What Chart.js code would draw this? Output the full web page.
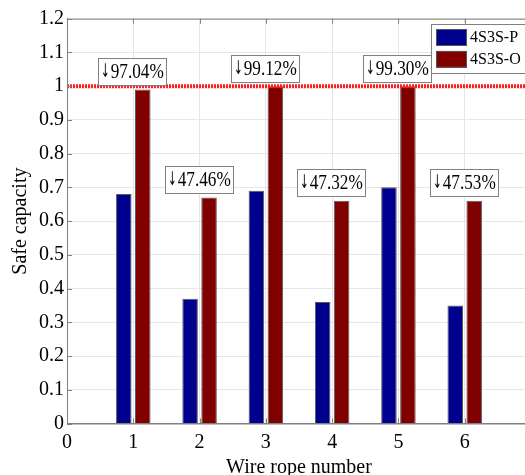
<!DOCTYPE html>
<html>
<head>
<meta charset="utf-8">
<script src="https://cdn.jsdelivr.net/npm/chart.js@4.4.1/dist/chart.umd.min.js"></script>
<style>
  html, body { margin: 0; padding: 0; background: #fff; overflow: hidden; }
  #wrap { width: 540px; height: 485px; }
</style>
</head>
<body>
<div id="wrap"><canvas id="myChart" width="540" height="485"></canvas></div>
<script>
// values
var ropeNumbers = [1, 2, 3, 4, 5, 6];
var seriesP = [0.68, 0.37, 0.69, 0.36, 0.70, 0.35];
var seriesO = [0.99, 0.67, 1.00, 0.66, 1.00, 0.66];
var dropPercent = [97.04, 47.46, 99.12, 47.32, 99.30, 47.53];
var seriesNames = ['4S3S-P', '4S3S-O'];
var xTickLabels = ['0', '1', '2', '3', '4', '5', '6'];
var yTickLabels = ['0', '0.1', '0.2', '0.3', '0.4', '0.5', '0.6', '0.7', '0.8', '0.9', '1', '1.1', '1.2'];
var limitValue = 1;

var serif = "'Liberation Serif', 'Times New Roman', serif";
Chart.defaults.font.family = serif;
Chart.defaults.color = '#000';

function points(vals) {
  return vals.map(function (v, i) { return { x: ropeNumbers[i], y: v }; });
}

// matlab style box + inward ticks
var framePlugin = {
  id: 'frame',
  afterDatasetsDraw: function (chart) {
    var a = chart.chartArea, ctx = chart.ctx;
    var xs = chart.scales.x, ys = chart.scales.y;
    ctx.save();
    ctx.strokeStyle = '#808080';
    ctx.lineWidth = 1;
    ctx.strokeRect(a.left + 0.5, a.top + 0.5, a.right - a.left, a.bottom - a.top);
    ctx.beginPath();
    xs.ticks.forEach(function (t) {
      var px = Math.round(xs.getPixelForValue(t.value)) + 0.5;
      ctx.moveTo(px, a.bottom); ctx.lineTo(px, a.bottom - 5);
      ctx.moveTo(px, a.top); ctx.lineTo(px, a.top + 5);
    });
    ys.ticks.forEach(function (t) {
      var py = Math.round(ys.getPixelForValue(t.value)) + 0.5;
      ctx.moveTo(a.left, py); ctx.lineTo(a.left + 5, py);
    });
    ctx.stroke();
    ctx.restore();
  }
};

// boxed drop labels above each group (text is a bit condensed in the original)
var squeeze = 0.86;
var arrowFont = '19px DejaVu Sans', arrowSqueeze = 0.55;
var dropLabels = {
  id: 'dropLabels',
  afterDatasetsDraw: function (chart) {
    var ctx = chart.ctx;
    var xs = chart.scales.x, ys = chart.scales.y;
    ctx.save();
    ctx.textBaseline = 'middle';
    ctx.textAlign = 'left';
    dropPercent.forEach(function (d, i) {
      var num = d.toFixed(2) + '%';
      ctx.font = arrowFont;
      var aw = ctx.measureText('\u2193').width * arrowSqueeze;
      ctx.font = '20px ' + serif;
      var nw = ctx.measureText(num).width * squeeze;
      var cx = xs.getPixelForValue(ropeNumbers[i]) - 1;
      var cy = ys.getPixelForValue(seriesO[i]) - 18;
      var w = Math.round(aw + 1 + nw + 5), h = 27;
      var bx = Math.round(cx - w / 2), by = Math.round(cy - h / 2);
      ctx.fillStyle = '#fff';
      ctx.fillRect(bx, by, w, h);
      ctx.strokeStyle = '#808080';
      ctx.lineWidth = 1;
      ctx.strokeRect(bx + 0.5, by + 0.5, w, h);
      ctx.fillStyle = '#000';
      ctx.save();
      ctx.translate(bx + 3, by + h / 2 + 1);
      ctx.scale(arrowSqueeze, 1);
      ctx.font = arrowFont;
      ctx.fillText('\u2193', 0, 0);
      ctx.restore();
      ctx.save();
      ctx.translate(bx + 3 + aw + 1, by + h / 2 + 1);
      ctx.scale(squeeze, 1);
      ctx.font = '20px ' + serif;
      ctx.fillText(num, 0, 0);
      ctx.restore();
    });
    ctx.restore();
  }
};

// legend box inside the top right corner
var boxLegend = {
  id: 'boxLegend',
  afterDraw: function (chart) {
    var a = chart.chartArea, ctx = chart.ctx;
    var bars = chart.data.datasets.filter(function (ds) { return ds.type !== 'line'; });
    ctx.save();
    ctx.font = '16px ' + serif;
    var tw = 0;
    bars.forEach(function (ds) { tw = Math.max(tw, ctx.measureText(ds.label).width); });
    var lx = a.right - 100, ly = a.top + 5.5;
    var bw = 5 + 30 + 4 + tw + 6, bh = 49;
    ctx.fillStyle = '#fff';
    ctx.fillRect(lx, ly, bw, bh);
    ctx.strokeStyle = '#808080';
    ctx.lineWidth = 1;
    ctx.strokeRect(Math.round(lx) + 0.5, Math.round(ly) + 0.5, Math.round(bw), bh);
    ctx.textBaseline = 'middle';
    bars.forEach(function (ds, i) {
      var sy = ly + 5 + i * 21.7;
      ctx.fillStyle = ds.backgroundColor;
      ctx.fillRect(lx + 5, sy, 30, 16);
      ctx.strokeStyle = '#555';
      ctx.strokeRect(Math.round(lx + 5) + 0.5, Math.round(sy) + 0.5, 30, 16);
      ctx.fillStyle = '#000';
      ctx.fillText(ds.label, lx + 39, sy + 9);
    });
    ctx.restore();
  }
};

var ctx = document.getElementById('myChart').getContext('2d');
var myChart = new Chart(ctx, {
  type: 'bar',
  data: {
    datasets: [{
      label: seriesNames[0],
      data: points(seriesP),
      backgroundColor: '#00008f',
      borderColor: '#5a5a5a',
      borderWidth: 1,
      categoryPercentage: 0.572,
      barPercentage: 0.82,
      order: 1
    }, {
      label: seriesNames[1],
      data: points(seriesO),
      backgroundColor: '#800000',
      borderColor: '#5a5a5a',
      borderWidth: 1,
      categoryPercentage: 0.572,
      barPercentage: 0.82,
      order: 1
    }, {
      type: 'line',
      label: 'limit',
      data: [{ x: 0, y: limitValue }, { x: 7, y: limitValue }],
      borderColor: '#ff1f1f',
      borderWidth: 4,
      borderDash: [2, 1],
      pointRadius: 0,
      order: 0
    }]
  },
  options: {
    responsive: false,
    animation: false,
    layout: { padding: { left: 6, top: 18.7, right: 8.5, bottom: 11.5 } },
    plugins: {
      legend: { display: false },
      tooltip: { enabled: false }
    },
    scales: {
      x: {
        type: 'linear',
        min: 0,
        max: 7,
        offset: false,
        ticks: {
          stepSize: 1,
          padding: 9,
          font: { size: 20, lineHeight: 1 },
          maxRotation: 0,
          callback: function (v) { return xTickLabels[v] || ''; }
        },
        grid: { color: '#e6e6e6', drawTicks: false, offset: false },
        border: { color: '#808080' },
        title: {
          display: true,
          text: 'Wire rope number',
          font: { size: 20, lineHeight: 0.6 },
          padding: 0
        }
      },
      y: {
        min: 0,
        max: 1.2,
        ticks: {
          stepSize: 0.1,
          padding: 3,
          font: { size: 20 },
          callback: function (v, i) { return yTickLabels[i]; }
        },
        grid: { color: '#e6e6e6', drawTicks: false },
        border: { color: '#808080' },
        title: {
          display: true,
          text: 'Safe capacity',
          font: { size: 20 },
          padding: { top: 3, bottom: 3 }
        }
      }
    }
  },
  plugins: [framePlugin, dropLabels, boxLegend]
});
</script>
</body>
</html>
